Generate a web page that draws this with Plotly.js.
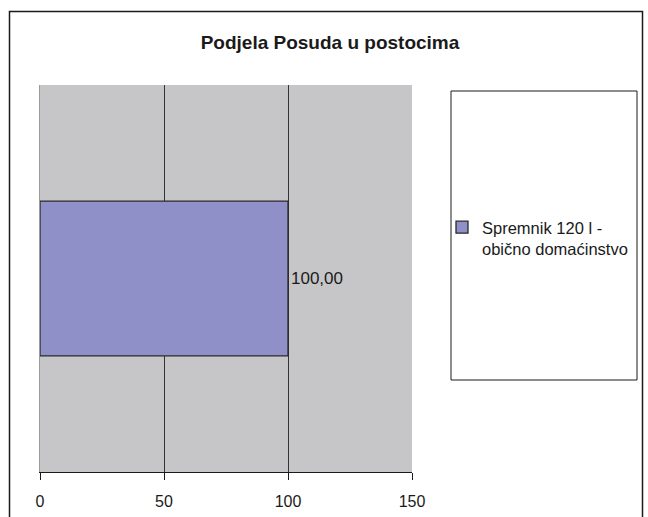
<!DOCTYPE html>
<html>
<head>
<meta charset="utf-8">
<script src="https://cdn.plot.ly/plotly-3.0.1.min.js"></script>
<style>html,body{margin:0;padding:0;background:#fff;}#chart{width:648px;height:517px;}</style>
</head>
<body>
<div id="chart"></div>
<script>
const categories = ['Spremnik 120 l - obično domaćinstvo'];
const seriesName = 'Spremnik 120 l -<br>obično domaćinstvo';
const values = [100];
const tickValues = [0, 50, 100, 150];
const tickLabels = ['0', '50', '100', '150'];

const W = 648, H = 517;
const ml = 40, mr = 236, mt = 85, mb = 45;
const pw = W - ml - mr, ph = H - mt - mb;
const px = x => (x - ml) / pw;
const py = y => (H - mb - y) / ph;
const FONT = '"Liberation Sans", Arial, sans-serif';

const trace = {
  type: 'bar',
  orientation: 'h',
  x: values,
  y: categories,
  name: seriesName,
  marker: {color: '#9090c8', line: {color: '#2a2a2a', width: 1.3}},
  texttemplate: '%{x:.2f}',
  textposition: 'outside',
  textfont: {family: FONT, size: 17, color: '#1a1a1a'},
  cliponaxis: false,
  showlegend: true,
  hoverinfo: 'skip'
};

const layout = {
  width: W, height: H,
  margin: {l: ml, r: mr, t: mt, b: mb, autoexpand: false},
  paper_bgcolor: '#ffffff',
  plot_bgcolor: '#c6c6c8',
  separators: ',.',
  bargap: 0.6,
  font: {family: FONT, color: '#1a1a1a'},
  title: {
    text: '<b>Podjela Posuda u postocima</b>',
    font: {size: 19, family: FONT, color: '#1a1a1a'},
    x: 330 / W, xanchor: 'center',
    y: 1 - 42 / H, yanchor: 'middle', yref: 'container'
  },
  xaxis: {
    range: [0, 150],
    tickvals: tickValues,
    ticktext: tickLabels,
    showgrid: true, gridcolor: '#333333', gridwidth: 1,
    zeroline: false,
    showline: true, linecolor: '#1a1a1a', linewidth: 1.3,
    ticks: 'outside', ticklen: 7, tickcolor: '#1a1a1a', tickwidth: 1,
    ticklabelstandoff: 7,
    tickfont: {size: 16, color: '#1a1a1a'},
    fixedrange: true
  },
  yaxis: {
    showticklabels: false, showgrid: false, zeroline: false,
    showline: true, linecolor: '#9a9a9a', linewidth: 1,
    ticks: '', fixedrange: true
  },
  legend: {
    x: px(442), xanchor: 'left',
    y: py(210), yanchor: 'top',
    bgcolor: 'rgba(0,0,0,0)', borderwidth: 0,
    font: {size: 16.5, color: '#1a1a1a'},
    itemwidth: 30, valign: 'top'
  },
  shapes: [
    {type: 'rect', xref: 'paper', yref: 'paper',
     x0: px(9.5), x1: px(642.5), y0: py(530), y1: py(11.5),
     line: {color: '#1a1a1a', width: 1.5}, fillcolor: 'rgba(0,0,0,0)', layer: 'below'},
    {type: 'rect', xref: 'paper', yref: 'paper',
     x0: px(451), x1: px(637), y0: py(380), y1: py(91),
     line: {color: '#1a1a1a', width: 1}, fillcolor: 'rgba(0,0,0,0)', layer: 'above'}
  ]
};

Plotly.newPlot('chart', [trace], layout, {displayModeBar: false, staticPlot: true});
</script>
</body>
</html>
